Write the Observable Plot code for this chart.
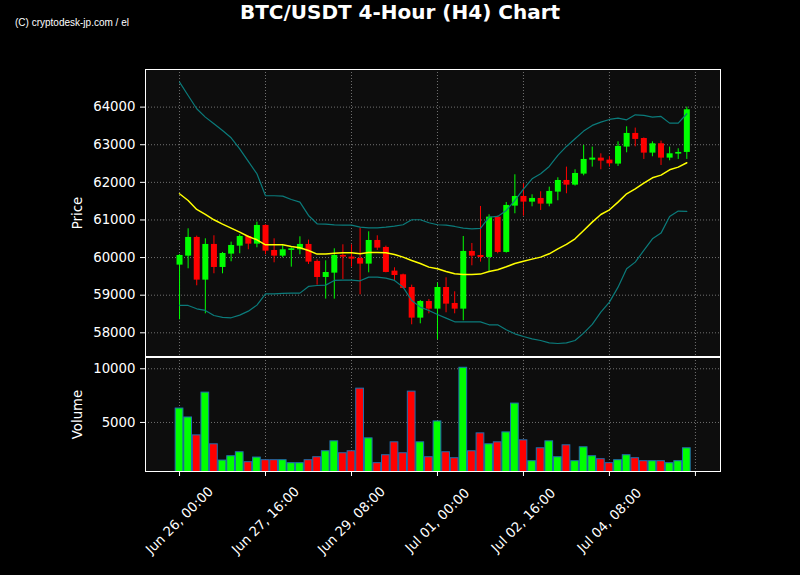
<!DOCTYPE html>
<html>
<head>
<meta charset="utf-8">
<script src="https://cdn.jsdelivr.net/npm/d3@7"></script>
<script src="https://cdn.jsdelivr.net/npm/@observablehq/plot@0.6"></script>
<style>
  html, body { margin: 0; padding: 0; background: #000; }
  #fig { position: relative; width: 800px; height: 575px; background: #000; overflow: hidden; }
  #title { position: absolute; left: 0; top: 0; width: 800px; text-align: center; color: #fff;
           font: bold 20px "DejaVu Sans", sans-serif; line-height: 24px; }
  #credit { position: absolute; left: 15px; top: 17px; color: #fff;
            font: 10px "Liberation Sans", Arial, sans-serif; line-height: 12px; }
  #p1, #p2 { position: absolute; left: 0; }
  #p1 { top: 0; }
  #p2 { top: 356px; }
</style>
</head>
<body>
<div id="fig">
  <div id="p1"></div>
  <div id="p2"></div>
  <div id="title">BTC/USDT 4-Hour (H4) Chart</div>
  <div id="credit">(C) cryptodesk-jp.com / el</div>
</div>
<script>
// ---- data ----
const startTime = "2024-06-26T00:00Z";
const stepHours = 4;
const open  = [59799,60038,60535,59400,60349,59737,60092,60304,60561,60357,60854,60189,60038,60189,60207,60349,59897,59471,59586,60056,60012,59976,59826,60455,60269,59640,59542,59205,58390,58833,58629,59205,58780,58629,60163,60056,60003,61075,60136,61368,61625,61474,61572,61421,61740,62050,61926,62219,62591,62644,62591,62485,62937,63300,63165,62777,63025,62644,62750,62795];
const high  = [60080,60765,60570,60499,60579,60136,60411,60605,60579,60942,60871,60499,60322,60260,60552,60464,59941,59914,60233,60340,60340,60783,60685,60579,60304,59728,59560,59267,58860,58887,59321,59462,59090,60561,60375,61359,61137,61100,61465,62201,61962,61669,61749,61873,62121,62405,62334,62981,62937,62759,62688,63078,63477,63442,63180,63078,63096,62937,62892,64000];
const low   = [58346,59702,59250,58505,59569,59569,59888,60100,60207,60260,60074,59861,59994,59746,60074,59817,59267,58895,58895,59418,59746,59010,59595,60189,59595,59365,59170,58213,58239,58505,57814,58532,58505,58319,59781,59879,59631,60100,60118,61164,61102,61350,61253,61350,61510,61696,61900,62174,62405,62334,62405,62423,62786,62945,62609,62680,62449,62574,62609,62609];
const close = [60056,60535,59400,60349,59737,60109,60322,60561,60357,60854,60171,60038,60207,60233,60349,59879,59471,59604,60056,60012,59959,59826,60455,60251,59604,59524,59179,58390,58833,58629,59205,58762,58629,60163,60038,60003,61075,60136,61386,61625,61474,61572,61421,61758,62050,61926,62236,62609,62644,62564,62493,62954,63300,63141,62777,63025,62644,62759,62795,63929];
const volume = [6296,5463,3797,7778,2964,1451,1853,2223,1297,1729,1482,1482,1482,1205,1205,1482,1760,2316,3241,2130,2316,8148,3519,1205,1946,3149,2130,7870,3149,1760,5093,2223,1668,10092,2316,3982,2964,3149,4074,6759,3334,1390,2593,3241,1760,2871,1390,2686,1853,1575,1205,1482,1946,1668,1390,1390,1390,1205,1390,2593];
const sma20 = [61696,61518,61279,61146,61005,60889,60783,60677,60561,60473,60340,60340,60340,60295,60260,60189,60092,60092,60118,60127,60127,60100,60136,60136,60127,60083,60012,59923,59843,59746,59702,59631,59569,59551,59551,59560,59631,59675,59755,59843,59900,59959,60012,60100,60233,60349,60499,60721,60942,61146,61270,61474,61696,61829,61979,62121,62192,62334,62405,62520];
const bbUpper = [64665,64310,63956,63734,63557,63380,63185,62892,62556,62228,61643,61643,61634,61545,61474,61120,60898,60889,60870,60863,60863,60810,60792,60792,60810,60836,60872,61005,61005,60925,60872,60863,60827,60783,60765,60774,61075,61094,61253,61518,61820,62095,62228,62423,62715,62954,63158,63362,63513,63601,63672,63708,63663,63796,63779,63734,63752,63575,63575,63823];
const bbLower = [58727,58727,58638,58594,58461,58408,58399,58470,58576,58736,59037,59037,59046,59055,59055,59232,59258,59267,59392,59400,59400,59383,59480,59480,59454,59392,59214,58860,58683,58594,58487,58390,58292,58292,58292,58292,58213,58213,58080,57973,57902,57840,57796,57734,57716,57734,57796,57991,58222,58549,58815,59214,59702,59879,60189,60499,60650,61094,61236,61226];

const priceTicks = [58000,59000,60000,61000,62000,63000,64000];
const volumeTicks = [5000,10000];
const xTickTimes  = ["2024-06-26T00:00Z","2024-06-27T16:00Z","2024-06-29T08:00Z","2024-07-01T00:00Z","2024-07-02T16:00Z","2024-07-04T08:00Z","2024-07-06T00:00Z"];
const xTickLabels = ["Jun 26, 00:00","Jun 27, 16:00","Jun 29, 08:00","Jul 01, 00:00","Jul 02, 16:00","Jul 04, 08:00",""];
const xDomain = ["2024-06-25T08:10Z","2024-07-06T11:40Z"];
const priceDomain = [57370, 65000];
const volumeDomain = [430, 11050];

// ---- build table ----
const H = 3600 * 1000;
const t0 = new Date(startTime).getTime();
const data = open.map((o, i) => ({
  date: new Date(t0 + i * stepHours * H),
  open: o, high: high[i], low: low[i], close: close[i], volume: volume[i],
  sma: sma20[i], upper: bbUpper[i], lower: bbLower[i],
  color: close[i] >= o ? "#00ff00" : "#ff0000"
}));
const xTicks = xTickTimes.map(s => new Date(s));
const xLabelData = xTicks.map((d, k) => ({date: d, label: xTickLabels[k]}));
const xScale = {type: "utc", domain: xDomain.map(s => new Date(s))};
const style = {background: "transparent", color: "#fff", fontSize: "13.3px", fontFamily: "DejaVu Sans, sans-serif", overflow: "visible"};
const gridStyle = {stroke: "#aaaaaa", strokeOpacity: 0.8, strokeWidth: 0.8, strokeDasharray: "1,2"};

const price = Plot.plot({
  width: 800, height: 357, marginLeft: 145, marginRight: 80, marginTop: 69, marginBottom: 1,
  style,
  x: {...xScale, axis: null},
  y: {domain: priceDomain, axis: null},
  color: {type: "identity"},
  marks: [
    Plot.frame({fill: "#0d0d0d", stroke: "none"}),
    Plot.gridY(priceTicks, gridStyle),
    Plot.gridX(xTicks, gridStyle),
    Plot.ruleX(data, {x: "date", y1: "low", y2: "high", stroke: "color", strokeWidth: 1}),
    Plot.ruleX(data, {x: "date", y1: "open", y2: "close", stroke: "color", strokeWidth: 6}),
    Plot.line(data, {x: "date", y: "upper", stroke: "#0b7b7b", strokeWidth: 1.2}),
    Plot.line(data, {x: "date", y: "lower", stroke: "#0b7b7b", strokeWidth: 1.2}),
    Plot.line(data, {x: "date", y: "sma", stroke: "#ffff00", strokeWidth: 1.5}),
    Plot.axisY(priceTicks, {tickSize: 5, tickPadding: 5, tickFormat: d => String(d),
      label: "Price", labelAnchor: "center", labelOffset: 73, labelArrow: "none"}),
    Plot.frame({stroke: "#fff", strokeWidth: 1})
  ]
});
document.getElementById("p1").appendChild(price);

const vol = Plot.plot({
  width: 800, height: 219, marginLeft: 145, marginRight: 80, marginTop: 1, marginBottom: 104,
  style,
  x: {...xScale, axis: null},
  y: {domain: volumeDomain, axis: null},
  color: {type: "identity"},
  marks: [
    Plot.frame({fill: "#0d0d0d", stroke: "none"}),
    Plot.gridY(volumeTicks, gridStyle),
    Plot.gridX(xTicks, gridStyle),
    Plot.rectY(data, {
      x1: d => new Date(+d.date - 1.8 * H), x2: d => new Date(+d.date + 1.8 * H),
      y1: 0, y2: "volume", fill: "color", stroke: "#1f6fb0", strokeWidth: 1, clip: true
    }),
    Plot.axisY(volumeTicks, {tickSize: 5, tickPadding: 5, tickFormat: d => String(d),
      label: "Volume", labelAnchor: "center", labelOffset: 73, labelArrow: "none"}),
    Plot.axisX(xTicks, {tickSize: 5, tickFormat: () => "", label: null}),
    Plot.text(xLabelData, {x: "date", text: "label", frameAnchor: "bottom", dy: 49,
      rotate: -45, textAnchor: "middle", lineAnchor: "middle", fill: "#fff"}),
    Plot.frame({stroke: "#fff", strokeWidth: 1})
  ]
});
document.getElementById("p2").appendChild(vol);
</script>
</body>
</html>
